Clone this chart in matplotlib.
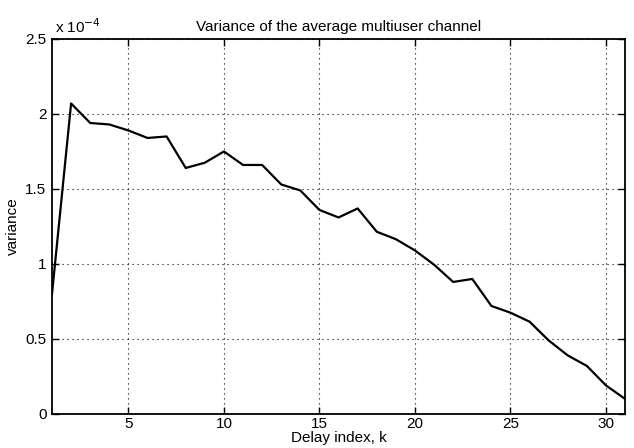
import matplotlib
matplotlib.use("Agg")
import matplotlib.pyplot as plt

# variance values in units of 1e-4, delay index k = 1..31
delay_k = list(range(1, 32))
variance = [0.80, 2.07, 1.94, 1.93, 1.89, 1.84, 1.85, 1.64, 1.675, 1.75,
            1.66, 1.66, 1.53, 1.49, 1.36, 1.31, 1.37, 1.215, 1.165, 1.09,
            0.995, 0.88, 0.90, 0.72, 0.675, 0.615, 0.49, 0.39, 0.32, 0.19, 0.10]
x_ticks = [5, 10, 15, 20, 25, 30]
y_ticks = [0, 0.5, 1, 1.5, 2, 2.5]
y_ticklabels = ["0", "0.5", "1", "1.5", "2", "2.5"]

plt.rcParams['font.family'] = ['Liberation Sans', 'DejaVu Sans']
plt.rcParams['font.size'] = 11

fig = plt.figure(figsize=(6.34, 4.48), dpi=100)
ax = fig.add_axes([0.082, 0.076, 0.904, 0.837])
ax.plot(delay_k, variance, color='black', linewidth=1.6)
ax.set_xlim(1, 31)
ax.set_ylim(0, 2.5)
ax.set_xticks(x_ticks)
ax.set_yticks(y_ticks)
ax.set_yticklabels(y_ticklabels)
ax.tick_params(direction='in', top=True, right=True, length=5, width=1,
               labelsize=11)
ax.tick_params(axis='x', pad=2)
ax.tick_params(axis='y', pad=4)
ax.grid(True, color='black', linestyle=(0, (1, 3.5)), linewidth=0.8)
for s in ax.spines.values():
    s.set_linewidth(1.3)
ax.set_title("Variance of the average multiuser channel", fontsize=11, pad=6)
ax.set_xlabel("Delay index, k", labelpad=0)
ax.set_ylabel("variance")
ax.yaxis.set_label_coords(-0.056, 0.5)
ax.text(0.005, 1.008, r"x 10$^{-4}$", transform=ax.transAxes, ha='left', va='bottom',
        fontsize=11)

plt.savefig('out.png', dpi=100)
